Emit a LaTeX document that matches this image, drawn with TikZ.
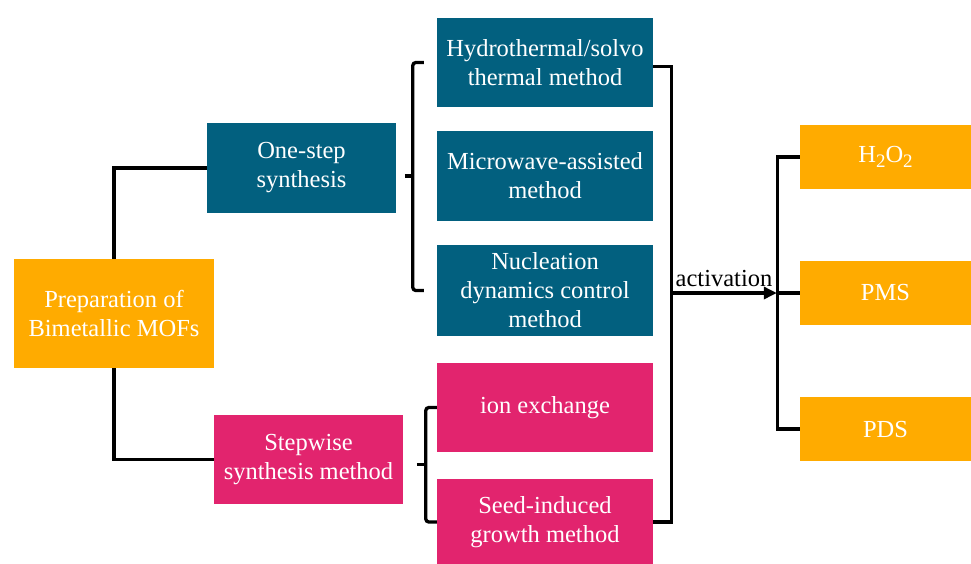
\documentclass[tikz,border=0pt]{standalone}
\usepackage{fontspec}
\setmainfont{Liberation Serif}
\usepackage{xcolor}
\usetikzlibrary{calc, arrows.meta}
\definecolor{tealColor}{HTML}{02607F}
\definecolor{pinkColor}{HTML}{E2246E}
\definecolor{orangeColor}{HTML}{FFAB00}
\newcommand{\lowsub}[1]{\raisebox{-0.45ex}{\fontsize{19}{19}\selectfont #1}}

\begin{document}
\begin{tikzpicture}[x=1pt, y=-1pt,
    box/.style={inner sep=0pt, text=white, align=center, font=\fontsize{24.5}{29}\selectfont},
    tealbox/.style={box, fill=tealColor, minimum width=216pt, minimum height=90pt},
    pinkbox/.style={box, fill=pinkColor, minimum width=216pt, minimum height=89pt},
    orangebox/.style={box, fill=orangeColor, minimum width=171pt, minimum height=64pt},
    link/.style={line width=3.3pt, black}]
    \useasboundingbox (0,0) rectangle (971,563);
    \node[box, fill=orangeColor, minimum width=200pt, minimum height=109pt] (prep) at (114,313.5) {Preparation of\\Bimetallic MOFs};
    \node[tealbox, minimum width=189pt] (onestep) at (301.5,168) {One-step\\synthesis};
    \node[pinkbox, minimum width=189pt] (stepwise) at (308.5,459.5) {Stepwise\\synthesis method};
    \node[tealbox, minimum height=89pt] (hydro) at (545,62.5) {Hydrothermal/solvo\\thermal method};
    \node[tealbox] (micro) at (545,176) {Microwave-assisted\\method};
    \node[tealbox, minimum height=91pt] (nucl) at (545,290.5) {Nucleation\\dynamics control\\method};
    \node[pinkbox] (ion) at (545,407.5) {ion exchange};
    \node[pinkbox, minimum height=86pt] (seed) at (545,522) {Seed-induced\\growth method};
    \node[orangebox] (h2o2) at (885.5,157) {H\lowsub{2}O\lowsub{2}};
    \node[orangebox] (pms) at (885.5,293) {PMS};
    \node[orangebox] (pds) at (885.5,429) {PDS};

    \draw[link] (prep.north) |- (onestep.west);
    \draw[link] (prep.south) |- (stepwise.west);
    \draw[link, rounded corners=3pt] ([xshift=-13pt]hydro.west) -- ([xshift=-24pt]hydro.west)
        -- ([xshift=-24pt]nucl.west) -- ([xshift=-13pt]nucl.west);
    \draw[link] ([xshift=-32pt]micro.west) -- ([xshift=-24pt]micro.west);
    \draw[link, rounded corners=3pt] (ion.west) -- ([xshift=-11pt]ion.west)
        -- ([xshift=-11pt]seed.west) -- (seed.west);
    \coordinate (mid) at ($(ion.west)!0.5!(seed.west)$);
    \draw[link] ([xshift=-20pt]mid) -- ([xshift=-11pt]mid);
    \coordinate (rjoin) at ([xshift=18pt]hydro.east);
    \coordinate (ljoin) at ([xshift=-22pt]h2o2.west);
    \draw[link] ([yshift=-4pt]hydro.east) -| (rjoin |- seed.east) -- (seed.east);
    \draw[link, -{Triangle[length=13pt, width=12pt]}] (rjoin |- pms.west) --
        node[above, text=black, font=\fontsize{24.5}{29}\selectfont, inner sep=5pt] {activation} ([xshift=-1pt]ljoin |- pms.west);
    \draw[link] (h2o2.west) -| (ljoin) |- (pds.west);
    \draw[link] (ljoin |- pms.west) -- (pms.west);
\end{tikzpicture}
\end{document}
